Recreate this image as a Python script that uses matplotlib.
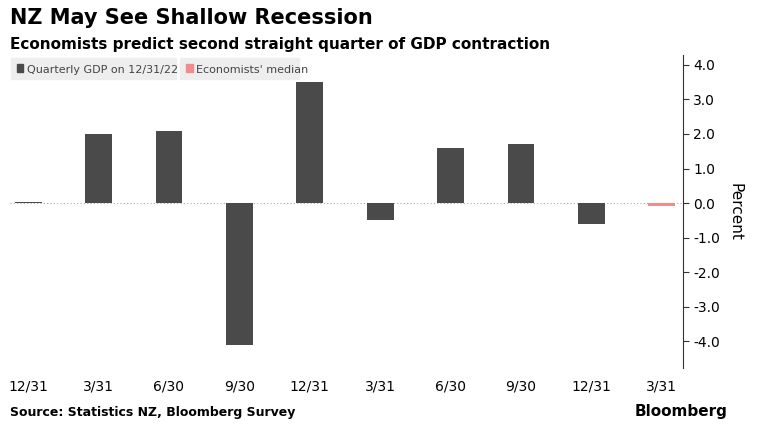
import matplotlib.pyplot as plt
import numpy as np

categories = ["12/31","3/31","6/30","9/30","12/31","3/31","6/30","9/30","12/31","3/31"]
gdp = [0.03, 2.0, 2.1, -4.1, 3.5, -0.5, 1.6, 1.7, -0.6]
median = [-0.1]
yticks = [4.0,3.0,2.0,1.0,0.0,-1.0,-2.0,-3.0,-4.0]

fig = plt.figure(figsize=(7.58,4.29), dpi=100)
ax = fig.add_axes([0.013, 0.142, 0.888, 0.73])
x = np.arange(len(categories))
ax.bar(x[:9], gdp, width=0.38, color="#4a4a4a")
ax.bar(x[9:], median, width=0.38, color="#f08c8c")
ax.axhline(0, color="#aaaaaa", lw=0.8, ls=(0,(1,2)), zorder=0)
ax.set_xlim(-0.26, 9.3)
ax.set_ylim(-4.78, 4.29)
ax.yaxis.tick_right()
ax.yaxis.set_label_position("right")
ax.set_yticks(yticks)
ax.set_yticklabels([f"{t:.1f}" for t in yticks], fontsize=10)
ax.set_xticks(x)
ax.set_xticklabels(categories, fontsize=10)
ax.tick_params(axis='x', length=0, pad=8)
ax.tick_params(axis='y', length=4, direction='out', color="#333333")
ax.set_ylabel("Percent", fontsize=11, rotation=270, labelpad=16)
for s in ["top","left","bottom"]:
    ax.spines[s].set_visible(False)
ax.spines["right"].set_color("#333333")

fig.text(0.013, 0.945, "NZ May See Shallow Recession", fontsize=15, fontweight="bold")
fig.text(0.013, 0.885, "Economists predict second straight quarter of GDP contraction", fontsize=11, fontweight="bold")
fig.patches.append(plt.Rectangle((0.014,0.815),0.218,0.05,color="#eeeeee",transform=fig.transFigure))
fig.patches.append(plt.Rectangle((0.238,0.815),0.156,0.05,color="#eeeeee",transform=fig.transFigure))
fig.patches.append(plt.Rectangle((0.022,0.832),0.009,0.018,color="#4a4a4a",transform=fig.transFigure))
fig.text(0.036, 0.829, "Quarterly GDP on 12/31/22", fontsize=8, color="#444444")
fig.patches.append(plt.Rectangle((0.245,0.832),0.009,0.018,color="#f08c8c",transform=fig.transFigure))
fig.text(0.258, 0.829, "Economists' median", fontsize=8, color="#444444")
fig.text(0.013, 0.03, "Source: Statistics NZ, Bloomberg Survey", fontsize=9, fontweight="bold")
fig.text(0.96, 0.03, "Bloomberg", fontsize=11, fontweight="bold", ha="right")
fig.savefig("out.png", dpi=100)
